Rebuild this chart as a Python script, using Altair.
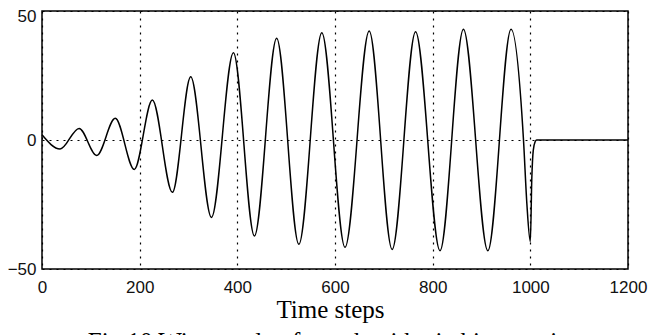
import altair as alt
import pandas as pd

# Values (time step, angle)
steps = [0, 37, 76, 112, 150, 189, 226, 267, 304.5, 347, 392, 435, 480.5,
         526, 573, 620.5, 670, 717, 765, 815, 863, 913, 960.5, 986, 993,
         1000, 1003, 1006, 1010, 1013, 1200]
angle = [2.0, -3.5, 4.5, -6.0, 8.4, -11.4, 15.5, -20.3, 24.5, -30.0, 33.8,
         -37.2, 39.4, -40.4, 41.6, -41.6, 42.2, -42.4, 42.0, -42.9, 42.9,
         -42.9, 42.9, 0.0, -25.0, -39.4, -15.0, -4.0, -0.6, 0.0, 0.0]
x_ticks = [0, 200, 400, 600, 800, 1000, 1200]
y_ticks = [-50, 0, 50]
x_title = "Time steps"
caption = "Fig.10 Wing angle of attack with pitching motion"

df = pd.DataFrame({"step": steps, "angle": angle})

line = alt.Chart(df).mark_line(
    color="black", strokeWidth=1.5, interpolate="monotone"
).encode(
    x=alt.X(
        "step:Q",
        scale=alt.Scale(domain=[0, 1200], nice=False, zero=False),
        axis=alt.Axis(
            values=x_ticks, format="d", title=x_title, grid=True,
            gridDash=[2, 5], gridColor="black", gridWidth=1.2, gridOpacity=1,
            tickSize=0, domain=False, labelPadding=10, labelFlush=False,
            labelFont="Liberation Sans", labelFontSize=17, labelColor="#111",
            titleFont="Liberation Serif", titleFontSize=25,
            titleFontWeight="normal", titleColor="black",
            titleX=288, titleY=48, titleBaseline="alphabetic",
        ),
    ),
    y=alt.Y(
        "angle:Q",
        scale=alt.Scale(domain=[-50, 50], nice=False),
        axis=alt.Axis(
            values=y_ticks, format="d", title=None, grid=True,
            gridDash=[2, 5], gridColor="black", gridWidth=1.2, gridOpacity=1,
            tickSize=0, domain=False, labelPadding=6, labelFlush=False,
            labelFont="Liberation Sans", labelFontSize=17, labelColor="#111",
            labelOffset=alt.expr("datum.value == 50 ? 5 : 0"),
        ),
    ),
).properties(
    width=586,
    height=258,
    autosize=alt.AutoSizeParams(type="none"),
    padding={"left": 34, "top": 3, "right": 30, "bottom": 70},
    background="white",
    title=alt.TitleParams(
        text=caption, orient="bottom", anchor="middle",
        font="Liberation Serif", fontSize=25, fontWeight="normal",
        color="black", offset=8,
    ),
).configure_view(
    stroke="black", strokeWidth=1.5
)

line.save("out.html", embed_options={"renderer": "svg", "actions": False})
